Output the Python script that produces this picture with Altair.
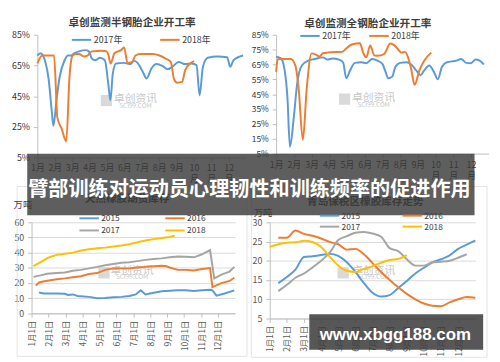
import json
import altair as alt
import pandas as pd

FONT = "Noto Sans CJK SC"
BLUE, ORANGE, GRAY, YELLOW = "#5B9BD5", "#ED7D31", "#A5A5A5", "#FFC000"
AXIS_GRAY = "#bfbfbf"
LABEL = "#404040"

# ---------------- texts ----------------
tl_title = "卓创监测半钢胎企业开工率"
tr_title = "卓创监测全钢胎企业开工率"
bl_title = "天然橡胶期货库存"
br_title = "青岛保税区橡胶库存走势"
unit_text = "万吨"
banner_text = "臂部训练对运动员心理韧性和训练频率的促进作用"
site_text = "www.xbgg188.com"
wm_cn = "卓创资讯"
wm_en = "SCI99.COM"

top_series = ["2017年", "2018年"]
bottom_series = ["2015", "2016", "2017", "2018"]
top_month_labels = ["1月", "2月", "3月", "4月", "5月", "6月", "7月", "8月", "9月",
                    "10\n月", "11\n月", "12\n月"]
bottom_month_labels = ["1月1日", "2月1日", "3月1日", "4月1日", "5月1日", "6月1日",
                       "7月1日", "8月1日", "9月1日", "10月1日", "11月1日", "12月1日"]
tl_ticks = [5, 25, 45, 65, 85]
tr_ticks = [5, 15, 25, 35, 45, 55, 65, 75, 85]
bl_ticks = [0, 10, 20, 30, 40, 50, 60]
br_ticks = [5, 10, 15, 20, 25, 30]

# ---------------- data: (month position, value) ----------------
tl_2017 = [(0.00, 71.5), (0.18, 73.0), (0.46, 67.3), (0.65, 56.0), (0.83, 35.0), (0.92, 25.7),
           (1.11, 43.4), (1.29, 58.0), (1.57, 68.4), (1.76, 71.5), (1.94, 71.5), (2.13, 73.0),
           (2.40, 74.2), (2.77, 75.0), (2.96, 74.2), (3.14, 69.4), (3.33, 68.4), (3.60, 70.0),
           (3.88, 68.4), (4.07, 53.8), (4.20, 42.4), (4.34, 60.0), (4.53, 66.3), (4.99, 66.7),
           (5.36, 65.9), (5.55, 68.0), (5.73, 67.0), (5.91, 64.0), (6.10, 60.0), (6.28, 56.5),
           (6.56, 63.0), (6.84, 65.9), (7.21, 64.6), (7.49, 62.5), (7.76, 64.2), (8.13, 67.3),
           (8.50, 65.9), (8.87, 66.3), (9.15, 65.2), (9.33, 45.5), (9.52, 64.2), (9.80, 70.0),
           (10.35, 70.8), (10.91, 70.4), (11.09, 64.2), (11.28, 68.4), (11.83, 71.5)]
tl_2018 = [(0.00, 66.3), (0.28, 71.5), (0.55, 71.5), (0.96, 71.5), (1.15, 31.0), (1.39, 24.0),
           (1.66, 15.5), (1.85, 58.0), (2.03, 71.5), (2.22, 72.5), (2.40, 72.5), (2.68, 70.9),
           (2.87, 71.5), (3.14, 74.2), (3.70, 74.6), (3.97, 74.2), (4.07, 72.5), (4.21, 66.3),
           (4.44, 73.1), (4.81, 75.0), (4.99, 76.7), (5.18, 66.7), (5.45, 67.3), (5.64, 71.5),
           (5.91, 72.5), (6.65, 72.5), (7.02, 71.5), (7.39, 69.4), (7.67, 67.3), (7.86, 56.0),
           (8.04, 53.8), (8.32, 54.3), (8.50, 62.0), (8.78, 66.3), (9.02, 67.8)]
tr_2017 = [(0.00, 70.2), (0.27, 69.1), (0.45, 63.3), (0.64, 42.6), (0.78, 9.6), (1.00, 29.6),
           (1.18, 51.3), (1.45, 64.3), (1.82, 67.6), (2.18, 68.7), (2.64, 69.8), (2.91, 68.3),
           (3.18, 69.1), (3.55, 68.3), (3.78, 66.5), (3.96, 55.7), (4.18, 61.1), (4.45, 66.1),
           (4.82, 66.5), (5.09, 65.9), (5.42, 68.7), (5.73, 67.6), (6.00, 65.4), (6.18, 60.0),
           (6.33, 55.7), (6.55, 56.7), (6.73, 63.3), (7.00, 66.1), (7.36, 66.5), (7.64, 64.8),
           (7.91, 61.1), (8.15, 57.8), (8.36, 61.1), (8.64, 64.3), (8.91, 60.0), (9.13, 55.0),
           (9.36, 63.3), (9.64, 66.5), (10.18, 67.6), (10.45, 68.7), (10.73, 66.1), (11.00, 65.9),
           (11.27, 68.3), (11.49, 67.6), (11.73, 65.0)]
tr_2018 = [(0.00, 60.0), (0.09, 68.5), (0.36, 68.7), (0.82, 68.7), (1.09, 64.3), (1.27, 49.0),
           (1.51, 14.3), (1.73, 49.0), (2.00, 72.5), (2.27, 71.5), (2.45, 70.4), (2.64, 72.6),
           (3.09, 73.3), (3.73, 73.5), (3.91, 75.2), (4.27, 78.5), (4.73, 79.3), (4.91, 73.0),
           (5.09, 69.8), (5.31, 77.8), (5.55, 71.0), (5.73, 70.9), (6.09, 72.0), (6.45, 79.1),
           (6.73, 77.4), (7.09, 73.0), (7.27, 73.5), (7.45, 69.8), (7.64, 61.1), (7.82, 51.3),
           (8.09, 61.1), (8.36, 67.6), (8.76, 73.0)]
bl_2015 = [(0.44, 13.7), (0.72, 13.0), (1.49, 13.0), (1.96, 12.8), (2.15, 12.0), (2.44, 12.4),
           (2.72, 11.4), (3.39, 10.8), (3.87, 9.9), (4.34, 10.1), (4.82, 10.6), (5.30, 10.8),
           (5.77, 11.4), (6.15, 12.4), (6.44, 15.1), (6.72, 12.4), (7.20, 13.5), (7.68, 14.5),
           (8.15, 14.9), (8.63, 15.1), (9.10, 15.1), (9.58, 14.7), (10.06, 15.1), (10.53, 15.5),
           (10.67, 15.1), (10.91, 11.6), (11.39, 13.0), (11.96, 15.1)]
bl_2016 = [(0.25, 18.2), (0.44, 20.3), (0.82, 21.3), (1.49, 22.4), (1.96, 23.0), (2.44, 23.8),
           (2.91, 24.4), (3.39, 25.9), (3.87, 26.5), (4.34, 28.6), (4.82, 29.6), (5.30, 29.6),
           (5.77, 29.6), (6.25, 30.2), (6.72, 30.6), (7.20, 31.0), (7.68, 31.3), (7.96, 31.0),
           (8.15, 30.2), (8.63, 28.6), (9.10, 28.6), (9.58, 28.2), (10.06, 29.2), (10.53, 29.8),
           (10.67, 17.2), (11.20, 19.9), (11.68, 21.3), (11.96, 23.4)]
bl_2017 = [(0.11, 24.0), (0.53, 25.0), (0.91, 26.0), (1.49, 26.5), (1.96, 26.9), (2.44, 28.0),
           (2.91, 28.6), (3.39, 29.6), (3.87, 30.6), (4.34, 31.7), (4.82, 32.5), (5.30, 33.3),
           (5.77, 33.7), (6.25, 34.4), (6.72, 35.2), (7.20, 35.8), (7.68, 36.2), (8.15, 36.9),
           (8.63, 37.5), (9.10, 37.3), (9.58, 36.9), (10.06, 38.9), (10.53, 41.7), (10.78, 23.0),
           (11.20, 25.5), (11.68, 27.5), (11.96, 30.6)]
bl_2018 = [(0.11, 31.1), (0.53, 33.7), (1.01, 36.8), (1.49, 38.5), (1.96, 39.3), (2.44, 40.0),
           (2.91, 41.4), (3.39, 42.2), (3.87, 42.9), (4.34, 43.3), (4.82, 44.1), (5.30, 44.7),
           (5.77, 45.5), (6.25, 46.8), (6.72, 48.0), (7.20, 48.9), (7.68, 49.7), (8.15, 50.3),
           (8.44, 51.1)]
br_2015 = [(0.5, 14.2), (1.0, 15.8), (1.5, 17.7), (2.0, 21.0), (2.5, 21.2), (3.0, 21.5),
           (3.5, 21.8), (4.0, 21.25), (4.5, 19.6), (5.0, 17.1), (5.5, 14.2), (6.0, 11.7),
           (6.5, 10.7), (7.0, 11.1), (7.5, 12.9), (8.0, 14.75), (8.5, 16.7), (9.0, 18.2),
           (9.5, 19.6), (10.0, 20.4), (10.5, 21.4), (11.0, 23.1), (11.5, 24.2), (12.0, 25.25)]
br_2016 = [(0.5, 26.0), (1.0, 26.0), (1.5, 27.9), (2.0, 27.0), (2.5, 26.5), (3.0, 25.8),
           (3.5, 24.9), (4.0, 24.3), (4.5, 22.9), (5.0, 23.1), (5.5, 21.7), (6.0, 19.4),
           (6.5, 17.1), (7.0, 15.0), (7.5, 13.1), (8.0, 11.4), (8.5, 10.0), (9.0, 8.9),
           (9.5, 8.3), (10.0, 8.2), (10.5, 9.2), (11.0, 10.0), (11.5, 10.6), (12.0, 10.4)]
br_2017 = [(0.5, 12.1), (1.0, 13.75), (1.5, 15.6), (2.0, 16.7), (2.5, 18.3), (3.0, 20.0),
           (3.5, 22.1), (4.0, 25.4), (4.5, 26.4), (5.0, 27.3), (5.5, 27.5), (6.0, 27.1),
           (6.5, 26.25), (7.0, 23.3), (7.5, 22.5), (8.0, 20.4), (8.5, 18.75), (9.0, 18.75),
           (9.5, 19.6), (10.0, 19.75), (10.5, 20.0), (11.0, 20.8), (11.5, 21.7)]
br_2018 = [(0.0, 23.6), (0.5, 24.3), (1.0, 24.7), (1.5, 24.8), (2.0, 25.2), (2.5, 24.9),
           (3.0, 23.6), (3.5, 21.1), (4.0, 18.8), (4.5, 17.4), (5.0, 17.1), (5.5, 17.9),
           (6.0, 18.6), (6.5, 19.5), (7.0, 20.2), (7.5, 20.5), (8.0, 21.5)]


# ---------------- helpers ----------------
def frame(series, names, key):
    rows = []
    for name, pts in zip(names, series):
        for m, v in pts:
            rows.append({"m": m, "v": v, key: name})
    return pd.DataFrame(rows)


def month_axis(labels, rotated, pad):
    arr = json.dumps([s.split("\n") for s in labels], ensure_ascii=False)
    kw = dict(labelAngle=270, labelAlign="right", labelBaseline="middle") if rotated else \
        dict(labelAngle=0, labelAlign="center", labelBaseline="top", labelLineHeight=11)
    return alt.Axis(values=list(range(len(labels))), labelExpr=f"{arr}[round(datum.value)]",
                    title=None, grid=False, labelFont=FONT,
                    labelFontSize=8.5 if rotated else 9,
                    labelColor="#595959" if rotated else "#333333",
                    labelOverlap=False, labelFlush=False, tickSize=4, tickColor=AXIS_GRAY,
                    domainColor=AXIS_GRAY, labelPadding=pad, **kw)


def value_axis(ticks, pct, grid, shift, size=9):
    return alt.Axis(values=ticks, labelExpr="datum.value + '%'" if pct else "datum.label",
                    title=None, grid=grid, gridColor="#d9d9d9", labelFont=FONT,
                    labelFontSize=size, labelColor="#333333" if pct else "#595959",
                    tickSize=4, tickColor=AXIS_GRAY, domainColor=AXIS_GRAY, labelPadding=4,
                    labelOverlap=False, labelFlush=False, offset=-shift)


def legend(x, y, col_pad, row_pad=0, size=9):
    return alt.Legend(orient="none", legendX=x, legendY=y, direction="horizontal", columns=2,
                      title=None, symbolType="M-3.3,0H3.3", symbolSize=36, symbolStrokeWidth=2,
                      labelOffset=8, labelFontSize=size, labelFont=FONT, labelColor=LABEL,
                      columnPadding=col_pad, rowPadding=row_pad, padding=0)


def line_chart(series, names, colors, key, ydom, xaxis, yticks, pct, grid, ysize, leg, interp,
               w, h, shift):
    df = frame(series, names, key)
    return alt.Chart(df).mark_line(strokeWidth=2, interpolate=interp).encode(
        x=alt.X("m:Q", scale=alt.Scale(domain=[0, 12], range=[shift, shift + w], nice=False,
                                       zero=False), axis=xaxis),
        y=alt.Y("v:Q", scale=alt.Scale(domain=ydom, nice=False, zero=False),
                axis=value_axis(yticks, pct, grid, shift, ysize)),
        color=alt.Color(f"{key}:N", scale=alt.Scale(domain=names, range=colors), legend=leg),
    ).properties(width=w + shift, height=h)


def txt(text, x, y, size, color, weight="normal", font=FONT, opacity=1.0):
    return alt.Chart(pd.DataFrame({"t": [text]})).mark_text(
        font=font, fontSize=size, fontWeight=weight, color=color, align="center",
        baseline="middle", opacity=opacity
    ).encode(text="t:N", x=alt.value(x), y=alt.value(y))


def box(x, x2, y, y2, fill, opacity=1.0, stroke=None):
    kw = dict(fill=fill, opacity=opacity)
    if stroke:
        kw.update(stroke=stroke, strokeWidth=1)
    return alt.Chart(pd.DataFrame({"a": [0]})).mark_rect(**kw).encode(
        x=alt.value(x), x2=alt.value(x2), y=alt.value(y), y2=alt.value(y2))


def watermark(ix, iy, tx, ty, ey):
    icon = alt.Chart(pd.DataFrame({"a": [0]})).mark_square(
        size=130, color="#cfcfcf", opacity=0.8).encode(x=alt.value(ix), y=alt.value(iy))
    return [icon, txt(wm_cn, tx, ty, 11, "#c8c8c8"), txt(wm_en, tx, ey, 6.5, "#c8c8c8")]


# ---------------- panels ----------------
TLW, TLH, TLD = 212.6, 125, 5.9
TRW, TRH, TRD = 216.5, 121, 6.5
BLW, BLH = 207.2, 92.6
BRW, BRH = 209.4, 98

tl_lines = line_chart([tl_2017, tl_2018], top_series, [BLUE, ORANGE], "s_tl", [5, 85],
                      month_axis(top_month_labels, False, 2), tl_ticks, True, False, 9,
                      legend(40.5 + TLD, 0.4, 34), "monotone", TLW, TLH, TLD)
tl = alt.layer(
    box(-23.6, 468.4, -23.5, 330.5, "white", 0.0),
    txt(tl_title, 96.5 + TLD, -12.1, 10.8, "#404040", "bold"),
    *watermark(70.4 + TLD, 67, 99.9 + TLD, 65, 72.3),
    tl_lines,
)

tr_lines = line_chart([tr_2017, tr_2018], top_series, [BLUE, ORANGE], "s_tr", [5, 85],
                      month_axis(top_month_labels, False, 3.5), tr_ticks, True, False, 8.5,
                      legend(30.0 + TRD, -3.6, 14.3), "monotone", TRW, TRH, TRD)
tr = alt.layer(
    txt(tr_title, 93.4 + TRD, -10.5, 10.8, "#404040", "bold"),
    *watermark(69.7 + TRD, 65.5, 99.3 + TRD, 64.5, 71.1),
    tr_lines,
)

bl_lines = line_chart([bl_2015, bl_2016, bl_2017, bl_2018], bottom_series,
                      [BLUE, ORANGE, GRAY, YELLOW], "s_bl", [0, 60],
                      month_axis(bottom_month_labels, True, 3), bl_ticks, False, True, 9,
                      legend(54.4, -8.45, 41.5, 3.5, 8.5), "linear", BLW, BLH, 0)
bl = alt.layer(
    box(-14.7, 219.4, -36.5, 136.5, "transparent", 1.0, "#e3e3e3"),
    txt(bl_title, 97.4, -23.8, 10.8, "#404040", "bold"),
    txt(unit_text, -8.8, -17.2, 9.5, "#404040"),
    *watermark(73.8, 51.5, 102.4, 49.5, 56.1),
    bl_lines,
)

br_lines = line_chart([br_2015, br_2016, br_2017, br_2018], bottom_series,
                      [BLUE, ORANGE, GRAY, YELLOW], "s_br", [5, 30],
                      month_axis(bottom_month_labels, True, 3), br_ticks, False, True, 9,
                      legend(56.7, -11.15, 38.2, 2.3, 8.5), "monotone", BRW, BRH, 0)
br = alt.layer(
    box(-18.7, 221.3, -36.5, 137.5, "transparent", 1.0, "#e3e3e3"),
    txt(br_title, 97.4, -20.9, 10.8, "#404040", "bold"),
    txt(unit_text, -6.9, -9.1, 9.5, "#404040"),
    *watermark(74.8, 51.5, 105.8, 49.5, 55.5),
    br_lines,
    box(-247, 208.6, -69.8, -7.2, "#3a3a3a", 0.82),
    txt(banner_text, -20.7, -32.6, 20.5, "white", "bold"),
    box(40.3, 217.4, 93.6, 129.8, "#3a3a3a", 0.85),
    txt(site_text, 127.9, 114.8, 17.2, "white", "bold", "Liberation Sans"),
)

chart = alt.concat(
    tl, tr, bl, br, columns=2, bounds="flush", align="each",
    spacing={"row": 66, "column": 23.6},
).resolve_scale(color="independent").properties(
    padding=0, background="white"
).configure_view(stroke=None)

chart.save("out.html", embed_options={"renderer": "svg", "actions": False})
